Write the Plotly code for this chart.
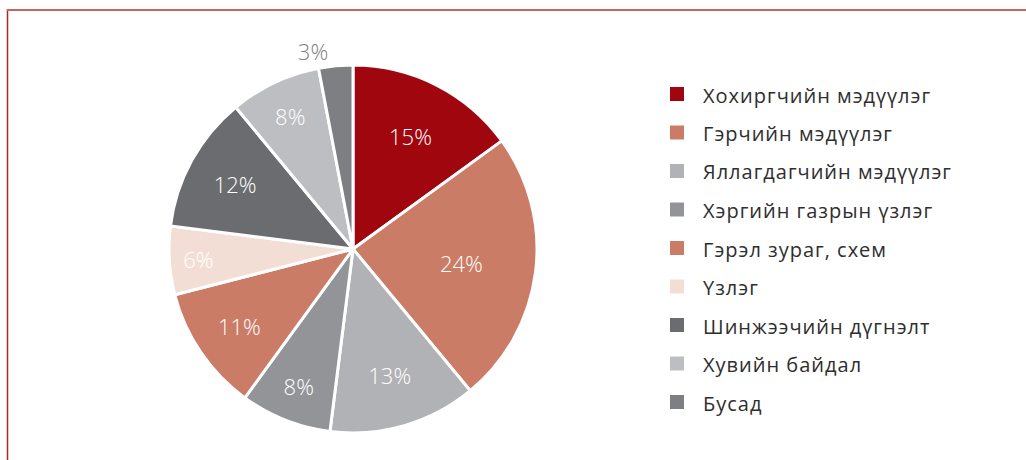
import plotly.graph_objects as go

labels = ["Хохиргчийн мэдүүлэг", "Гэрчийн мэдүүлэг", "Яллагдагчийн мэдүүлэг",
          "Хэргийн газрын үзлэг", "Гэрэл зураг, схем", "Үзлэг",
          "Шинжээчийн дүгнэлт", "Хувийн байдал", "Бусад"]
values = [15, 24, 13, 8, 11, 6, 12, 8, 3]
colors = ["#A0060E", "#CA7C66", "#B1B2B5", "#939497", "#CA7C66", "#F3DED5",
          "#6B6C70", "#BDBEC1", "#7E7F83"]
text_positions = ["inside"] * 8 + ["outside"]
text_colors = ["#FFFFFF"] * 8 + ["#808080"]

W, H = 1026, 460

fig = go.Figure()
fig.add_trace(go.Pie(
    labels=labels, values=values, sort=False, direction="clockwise", rotation=0,
    marker=dict(colors=colors, line=dict(color="#FFFFFF", width=3)),
    textinfo="percent", texttemplate="%{percent:.0%}",
    textposition=text_positions, insidetextorientation="horizontal",
    textfont=dict(family="Open Sans", size=22, color=text_colors, weight=300),
    domain=dict(x=[169 / W, 537 / W], y=[(H - 433) / H, (H - 65) / H]),
    showlegend=False, hoverinfo="label+percent",
))

shapes = [
    dict(type="line", xref="paper", yref="paper", x0=7.5 / W, x1=7.5 / W,
         y0=0, y1=(H - 9) / H, line=dict(color="#A52A2A", width=1.5)),
    dict(type="line", xref="paper", yref="paper", x0=7 / W, x1=1,
         y0=(H - 10) / H, y1=(H - 10) / H, line=dict(color="#C86468", width=2)),
]
annotations = []
y_top, step = 94, 38.5
for i, (lab, col) in enumerate(zip(labels, colors)):
    yc = y_top + i * step
    shapes.append(dict(type="rect", xref="paper", yref="paper",
                       x0=670 / W, x1=684 / W, y0=(H - yc - 7) / H, y1=(H - yc + 7) / H,
                       fillcolor=col, line=dict(width=0)))
    annotations.append(dict(xref="paper", yref="paper", x=701 / W, y=(H - yc - 1) / H,
                            text=f"<span style='letter-spacing:1px'>{lab}</span>",
                            showarrow=False, xanchor="left", yanchor="middle",
                            font=dict(family="Open Sans", size=20, color="#2E2E2E")))

fig.update_layout(
    width=W, height=H, margin=dict(l=0, r=0, t=0, b=0),
    paper_bgcolor="white", plot_bgcolor="white",
    shapes=shapes, annotations=annotations,
)
fig.write_html("out.html", config={"displayModeBar": False},
               post_script="document.body.style.margin='0';document.body.style.overflow='hidden';")
